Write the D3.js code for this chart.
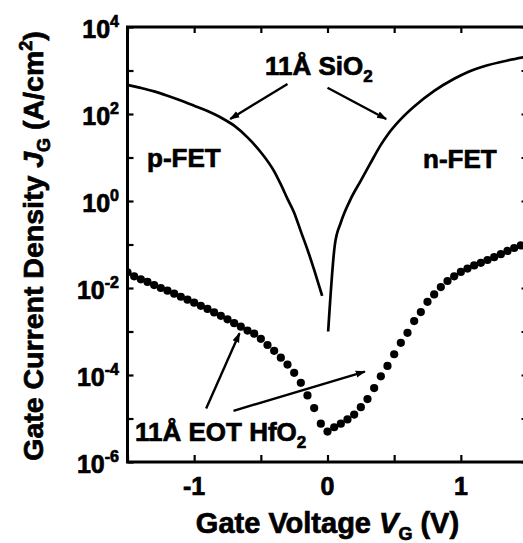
<!DOCTYPE html>
<html><head><meta charset="utf-8">
<script src="https://cdn.jsdelivr.net/npm/d3@7"></script>
<style>body{margin:0;background:#fff}svg{display:block}</style>
</head><body>
<svg id="chart" width="523" height="543"></svg>
<script>
// ---- data ----
const vHfO2 = [-1.50,-1.45,-1.40,-1.35,-1.30,-1.25,-1.20,-1.15,-1.10,-1.05,-1.00,-0.95,-0.90,-0.85,-0.80,-0.75,-0.70,-0.65,-0.60,-0.55,-0.50,-0.45,-0.40,-0.35,-0.30,-0.25,-0.20,-0.15,-0.10,-0.05,0.00,0.05,0.10,0.15,0.20,0.25,0.30,0.35,0.40,0.45,0.50,0.55,0.60,0.65,0.70,0.75,0.80,0.85,0.90,0.95,1.00,1.05,1.10,1.15,1.20,1.25,1.30,1.35,1.40,1.45,1.50];
const jHfO2 = [2.29e-2,1.86e-2,1.58e-2,1.38e-2,1.17e-2,1.00e-2,8.7e-3,7.4e-3,6.3e-3,5.4e-3,4.6e-3,3.9e-3,3.3e-3,2.75e-3,2.29e-3,1.91e-3,1.55e-3,1.29e-3,1.05e-3,8.9e-4,6.8e-4,4.9e-4,3.6e-4,2.5e-4,1.74e-4,1.12e-4,6.6e-5,3.4e-5,1.74e-5,7.6e-6,5.0e-6,6.3e-6,7.6e-6,9.5e-6,1.23e-5,1.82e-5,2.8e-5,5.0e-5,9.3e-5,1.62e-4,3.0e-4,5.5e-4,9.3e-4,1.74e-3,2.8e-3,4.8e-3,7.1e-3,1.05e-2,1.45e-2,1.86e-2,2.34e-2,2.8e-2,3.3e-2,3.8e-2,4.4e-2,5.1e-2,6.0e-2,7.1e-2,8.3e-2,9.5e-2,1.10e-1];
const vSiO2p = [-1.50,-1.40,-1.30,-1.20,-1.10,-1.00,-0.90,-0.80,-0.70,-0.60,-0.50,-0.40,-0.35,-0.30,-0.25,-0.20,-0.15,-0.10,-0.05,-0.04];
const jSiO2p = [468,398,331,263,204,155,117,83,54,29,13.2,4.8,2.4,1.12,0.54,0.20,0.076,0.026,8.3e-3,6.6e-3];
const vSiO2n = [0.005,0.055,0.10,0.17,0.25,0.32,0.40,0.45,0.55,0.65,0.80,0.95,1.05,1.20,1.35,1.50];
const jSiO2n = [1.0e-3,9.8e-2,0.32,1.05,2.95,7.2,19.5,33,76,148,339,646,912,1318,1698,2089];
const xTicks = [-1,0,1];
const xMinorTicks = [-1.5,-1,-0.5,0,0.5,1,1.5];
const yLabelExps = [-6,-4,-2,0,2,4];
const yTickExps = [-6,-5,-4,-3,-2,-1,0,1,2,3,4];
// annotation arrows in data coords [V, J]
const arrows = [
  {from:[-0.30,490], to:[-0.73,77]},
  {from:[0.00,400], to:[0.44,77]},
  {from:[-0.91,1.7e-5], to:[-0.66,9.1e-4]},
  {from:[-0.705,1.5e-5], to:[0.28,1.2e-4]}
];

// ---- layout ----
const svg = d3.select("#chart");
const x = d3.scaleLinear().domain([-1.5,1.5]).range([127.5,527.5]);
const y = d3.scaleLog().domain([1e-6,1e4]).range([462,27]);
const FONT = "'Liberation Sans', Arial, Helvetica, sans-serif";

svg.append("defs").append("marker")
  .attr("id","ah").attr("viewBox","0 0 10 10").attr("refX",9).attr("refY",5)
  .attr("markerWidth",4.2).attr("markerHeight",4.2).attr("markerUnits","strokeWidth").attr("orient","auto")
  .append("path").attr("d","M0,1.5 L10,5 L0,8.5 Z").attr("fill","#000");

svg.append("clipPath").attr("id","clip").append("rect")
  .attr("x",127.5).attr("y",27).attr("width",400).attr("height",435);

const plot = svg.append("g").attr("clip-path","url(#clip)");

const line = d3.line().x(d=>x(d[0])).y(d=>y(d[1])).curve(d3.curveMonotoneX);
plot.append("path").datum(vSiO2p.map((v,i)=>[v,jSiO2p[i]]))
  .attr("d",line).attr("fill","none").attr("stroke","#000").attr("stroke-width",2.7);
plot.append("path").datum(vSiO2n.map((v,i)=>[v,jSiO2n[i]]))
  .attr("d",line).attr("fill","none").attr("stroke","#000").attr("stroke-width",2.7);

plot.selectAll("circle.hf").data(vHfO2.map((v,i)=>[v,jHfO2[i]])).enter()
  .append("circle").attr("class","hf")
  .attr("cx",d=>x(d[0])).attr("cy",d=>y(d[1])).attr("r",4.1).attr("fill","#000");

function axisStyle(g){
  g.select(".domain").remove();
  g.selectAll(".tick line").attr("stroke","#000").attr("stroke-width",2.2);
  g.selectAll(".tick text").remove();
}
svg.append("g").attr("transform","translate(0,462)")
  .call(d3.axisTop(x).tickValues(xMinorTicks).tickSize(7).tickSizeOuter(0)).call(axisStyle);
svg.append("g").attr("transform","translate(0,27)")
  .call(d3.axisBottom(x).tickValues(xMinorTicks).tickSize(6).tickSizeOuter(0)).call(axisStyle);
svg.append("g").attr("transform","translate(127.5,0)")
  .call(d3.axisRight(y).tickValues(yTickExps.map(e=>Math.pow(10,e))).tickSize(6).tickSizeOuter(0)).call(axisStyle);
svg.append("g").attr("transform","translate(527.5,0)")
  .call(d3.axisLeft(y).tickValues(yTickExps.map(e=>Math.pow(10,e))).tickSize(6).tickSizeOuter(0)).call(axisStyle);
svg.append("rect").attr("x",127.5).attr("y",27).attr("width",400).attr("height",435)
  .attr("fill","none").attr("stroke","#000").attr("stroke-width",3);

const TS = 0.7; // text outline to mimic heavy print
function heavy(sel){ return sel.attr("stroke","#000").attr("stroke-width",TS).attr("fill","#000"); }

svg.selectAll("text.xl").data(xTicks).enter().append("text").attr("class","xl")
  .attr("x",d=>x(d)).attr("y",495).attr("text-anchor","middle")
  .attr("font-family",FONT).attr("font-weight","bold").attr("font-size",25)
  .call(heavy)
  .text(d=>d<0?"-"+Math.abs(d):String(d));

const yl = svg.selectAll("text.yl").data(yLabelExps).enter().append("text").attr("class","yl")
  .attr("x",119).attr("y",d=>y(Math.pow(10,d))+11).attr("text-anchor","end")
  .attr("font-family",FONT).attr("font-weight","bold").attr("font-size",25).call(heavy);
yl.append("tspan").text("10");
yl.append("tspan").attr("dy",-11).attr("font-size",16).text(d=>String(d));

const xt = svg.append("text").attr("x",327.5).attr("y",533).attr("text-anchor","middle")
  .attr("font-family",FONT).attr("font-weight","bold").attr("font-size",29).call(heavy);
xt.append("tspan").text("Gate Voltage ");
xt.append("tspan").attr("font-style","italic").text("V");
xt.append("tspan").attr("font-size",18).attr("dy",7).text("G");
xt.append("tspan").attr("dy",-7).text(" (V)");

const yt = svg.append("text").attr("transform","translate(43,246) rotate(-90)").attr("text-anchor","middle")
  .attr("font-family",FONT).attr("font-weight","bold").attr("font-size",28.5).call(heavy);
yt.append("tspan").text("Gate Current Density ");
yt.append("tspan").attr("font-style","italic").text("J");
yt.append("tspan").attr("font-size",18).attr("dy",7).text("G");
yt.append("tspan").attr("dy",-7).text(" (A/cm");
yt.append("tspan").attr("font-size",18).attr("dy",-11).text("2");
yt.append("tspan").attr("dy",11).text(")");

svg.selectAll("line.arr").data(arrows).enter().append("line").attr("class","arr")
  .attr("x1",d=>x(d.from[0])).attr("y1",d=>y(d.from[1]))
  .attr("x2",d=>x(d.to[0])).attr("y2",d=>y(d.to[1]))
  .attr("stroke","#000").attr("stroke-width",2.4).attr("marker-end","url(#ah)");

function label(xp, yp, main, sub){
  const t = svg.append("text").attr("x",xp).attr("y",yp)
    .attr("font-family",FONT).attr("font-weight","bold").attr("font-size",26).call(heavy);
  t.append("tspan").text(main);
  if(sub) t.append("tspan").attr("font-size",17).attr("dy",7).text(sub);
  return t;
}
label(265,75,"11Å SiO","2");
label(147,167,"p-FET");
label(423,168,"n-FET");
label(135,441,"11Å EOT HfO","2");
</script>
</body></html>
